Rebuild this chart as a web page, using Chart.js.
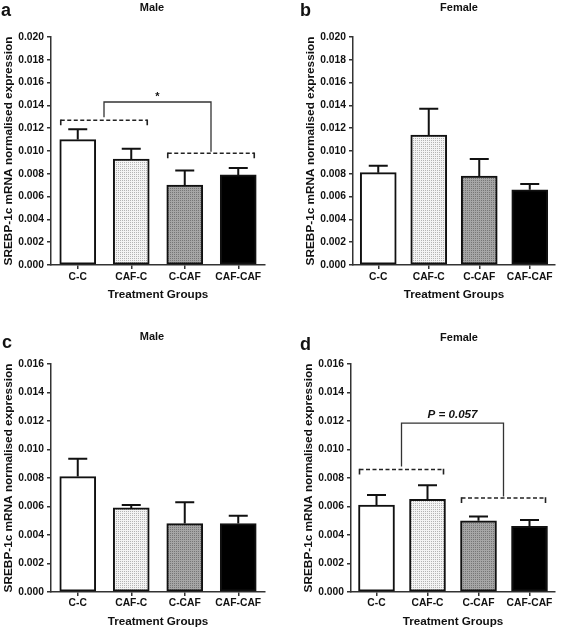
<!DOCTYPE html>
<html>
<head>
<meta charset="utf-8">
<script src="https://cdn.jsdelivr.net/npm/chart.js@4.4.1/dist/chart.umd.min.js"></script>
<style>
body { margin: 0; background: #fff; }
#wrap { position: relative; width: 567px; height: 631px; background: #fff; }
canvas { position: absolute; }
</style>
</head>
<body>
<div id="wrap">
  <canvas id="pa" width="283" height="315" style="left:0;top:0"></canvas>
  <canvas id="pb" width="284" height="315" style="left:283px;top:0"></canvas>
  <canvas id="pc" width="283" height="316" style="left:0;top:315px"></canvas>
  <canvas id="pd" width="284" height="316" style="left:283px;top:315px"></canvas>
</div>
<script>
// data
const categories = ['C-C', 'CAF-C', 'C-CAF', 'CAF-CAF'];

const maleA = [0.0110, 0.0093, 0.0070, 0.0079];
const maleAErr = [0.0009, 0.0009, 0.0013, 0.0006];
const femaleB = [0.0081, 0.0114, 0.0078, 0.0066];
const femaleBErr = [0.0006, 0.0023, 0.0015, 0.0005];
const maleC = [0.0081, 0.0059, 0.0048, 0.0048];
const maleCErr = [0.00125, 0.0002, 0.0015, 0.00055];
const femaleD = [0.0061, 0.0065, 0.0050, 0.0046];
const femaleDErr = [0.0007, 0.0010, 0.0003, 0.00045];

const yTicksTop = ['0.000', '0.002', '0.004', '0.006', '0.008', '0.010', '0.012', '0.014', '0.016', '0.018', '0.020'];
const yTicksBottom = ['0.000', '0.002', '0.004', '0.006', '0.008', '0.010', '0.012', '0.014', '0.016'];

// comparison brackets: dashed levels for (C-C,CAF-C) and (C-CAF,CAF-CAF), then the joining level
const bracketA = [0.0127, 0.0098, 0.0143];
const bracketD = [0.0086, 0.0066, 0.01185];

const FONT = "'Liberation Sans', Arial, sans-serif";
const INK = '#111';

// dotted fills
function dotPattern(bg, dot) {
    const c = document.createElement('canvas');
    c.width = 2; c.height = 2;
    const g = c.getContext('2d');
    g.fillStyle = bg; g.fillRect(0, 0, 2, 2);
    g.fillStyle = dot; g.fillRect(0, 0, 1, 1);
    return g.createPattern(c, 'repeat');
}
const fills = ['#ffffff', dotPattern('#f4f4f4', '#b4b4b4'), dotPattern('#a6a6a6', '#767676'), '#000000'];

const extras = {
    id: 'extras',
    afterDatasetsDraw(chart) {
        const o = chart.options.plugins.extras;
        const ctx = chart.ctx, x = chart.scales.x, y = chart.scales.y;
        const vals = chart.data.datasets[0].data;
        ctx.save();
        ctx.strokeStyle = INK;
        ctx.lineWidth = 2;
        vals.forEach((v, i) => {
            const px = x.getPixelForValue(i);
            const yb = y.getPixelForValue(v);
            const yt = y.getPixelForValue(v + o.err[i]);
            ctx.beginPath();
            ctx.moveTo(px, yb); ctx.lineTo(px, yt);
            ctx.moveTo(px - 9.5, yt); ctx.lineTo(px + 9.5, yt);
            ctx.stroke();
        });
        ctx.restore();
    },
    afterDraw(chart) {
        const o = chart.options.plugins.extras;
        const ctx = chart.ctx, x = chart.scales.x, y = chart.scales.y;
        ctx.save();
        ctx.fillStyle = INK;
        ctx.textAlign = 'left';
        ctx.textBaseline = 'alphabetic';
        ctx.font = 'bold 18px ' + FONT;
        ctx.fillText(o.letter, o.letterPos[0], o.letterPos[1]);
        ctx.textAlign = 'center';
        ctx.textBaseline = 'middle';
        ctx.font = 'bold 11px ' + FONT;
        ctx.fillText(o.title, o.titlePos[0], o.titlePos[1]);

        if (o.bracket) {
            const half = 18;
            const spans = [[0, 1], [2, 3]];
            const mids = [];
            ctx.strokeStyle = '#222';
            spans.forEach((s, k) => {
                const x0 = x.getPixelForValue(s[0]) - half + 1;
                const x1 = x.getPixelForValue(s[1]) + half - 2;
                const yy = y.getPixelForValue(o.bracket[k]);
                mids.push([(x0 + x1) / 2, yy]);
                ctx.lineWidth = 1.6;
                ctx.setLineDash([4, 2.5]);
                ctx.beginPath();
                ctx.moveTo(x0, yy); ctx.lineTo(x1, yy);
                ctx.stroke();
                ctx.setLineDash([]);
                ctx.beginPath();
                ctx.moveTo(x0, yy - 0.8); ctx.lineTo(x0, yy + 5);
                ctx.moveTo(x1, yy - 0.8); ctx.lineTo(x1, yy + 5);
                ctx.stroke();
            });
            const yTop = y.getPixelForValue(o.bracket[2]);
            ctx.lineWidth = 1.3;
            ctx.strokeStyle = '#333';
            ctx.beginPath();
            ctx.moveTo(mids[0][0], mids[0][1] - 3);
            ctx.lineTo(mids[0][0], yTop);
            ctx.lineTo(mids[1][0], yTop);
            ctx.lineTo(mids[1][0], mids[1][1] - 1.5);
            ctx.stroke();
            ctx.fillStyle = INK;
            ctx.textBaseline = 'alphabetic';
            ctx.font = o.markFont + FONT;
            ctx.fillText(o.mark, (mids[0][0] + mids[1][0]) / 2, yTop - o.markGap);
        }
        ctx.restore();
    }
};

function makeChart(id, values, errs, yTicks, p) {
    const tickFont = { family: FONT, size: 10.3, weight: 'bold' };
    return new Chart(document.getElementById(id), {
        type: 'bar',
        data: {
            labels: categories,
            datasets: [{
                data: values,
                backgroundColor: fills,
                borderColor: INK,
                borderWidth: 2,
                borderSkipped: false,
                barThickness: 36
            }]
        },
        options: {
            responsive: false,
            animation: false,
            layout: { padding: { left: p.left, right: p.right, top: p.top, bottom: 0 } },
            plugins: {
                legend: { display: false },
                tooltip: { enabled: false },
                extras: {
                    err: errs,
                    letter: p.letter, letterPos: p.letterPos,
                    title: p.title, titlePos: p.titlePos,
                    bracket: p.bracket, mark: p.mark, markFont: p.markFont, markGap: p.markGap
                }
            },
            scales: {
                x: {
                    afterFit: s => { s.height = p.xHeight; },
                    ticks: { font: tickFont, color: INK, padding: p.xPad, maxRotation: 0, minRotation: 0, autoSkip: false },
                    grid: { offset: false, drawOnChartArea: false, tickLength: 4, color: '#333', lineWidth: 1.5 },
                    border: { color: '#333', width: 1.5 },
                    title: {
                        display: true, text: 'Treatment Groups', color: INK,
                        font: { family: FONT, size: 11.7, weight: 'bold' },
                        padding: { top: 0, bottom: p.xTitlePad }
                    }
                },
                y: {
                    min: 0,
                    max: parseFloat(yTicks[yTicks.length - 1]),
                    afterFit: s => { s.width = 51; },
                    afterBuildTicks: s => { s.ticks = yTicks.map(t => ({ value: parseFloat(t) })); },
                    ticks: { font: tickFont, color: INK, padding: 3, callback: (v, i) => yTicks[i] },
                    grid: { drawOnChartArea: false, tickLength: 4, color: '#333', lineWidth: 1.5 },
                    border: { color: '#333', width: 1.5 },
                    title: {
                        display: true, text: 'SREBP-1c mRNA normalised expression', color: INK,
                        font: { family: FONT, size: 11.8, weight: 'bold' },
                        padding: { top: 2, bottom: 0 }
                    }
                }
            }
        },
        plugins: [extras]
    });
}

makeChart('pa', maleA, maleAErr, yTicksTop, {
    left: 0, right: 18, top: 37, xHeight: 50, xPad: 2, xTitlePad: 13,
    letter: 'a', letterPos: [1, 16], title: 'Male', titlePos: [152, 8],
    bracket: bracketA, mark: '*', markFont: 'bold 11px ', markGap: 2
});
makeChart('pb', femaleB, femaleBErr, yTicksTop, {
    left: 19, right: 12, top: 37, xHeight: 50, xPad: 2, xTitlePad: 13,
    letter: 'b', letterPos: [17, 16], title: 'Female', titlePos: [176, 8]
});
makeChart('pc', maleC, maleCErr, yTicksBottom, {
    left: 0, right: 18, top: 49, xHeight: 39, xPad: 1, xTitlePad: 2,
    letter: 'c', letterPos: [2, 33], title: 'Male', titlePos: [152, 22]
});
makeChart('pd', femaleD, femaleDErr, yTicksBottom, {
    left: 17, right: 12, top: 49, xHeight: 39, xPad: 1, xTitlePad: 2,
    letter: 'd', letterPos: [17, 35], title: 'Female', titlePos: [176, 23],
    bracket: bracketD, mark: 'P = 0.057', markFont: 'italic bold 11.6px ', markGap: 5
});
</script>
</body>
</html>
